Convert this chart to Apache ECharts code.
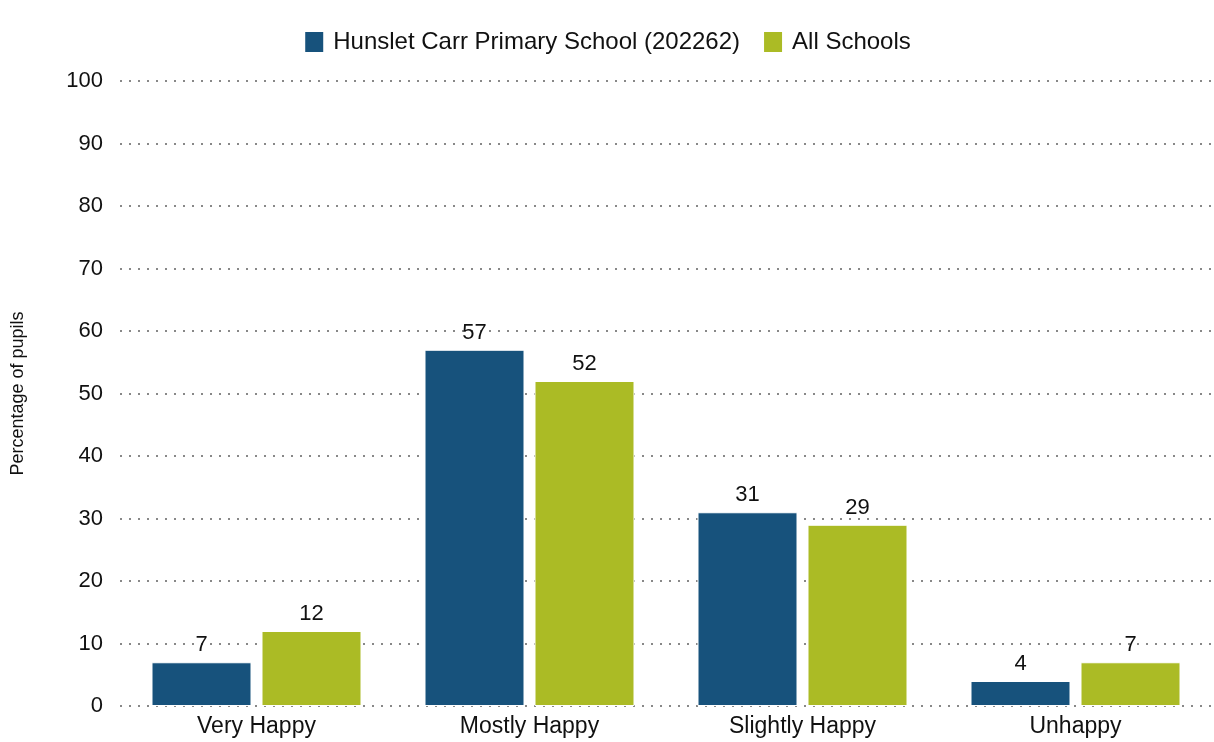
<!DOCTYPE html>
<html><head><meta charset="utf-8">
<script src="https://cdn.jsdelivr.net/npm/echarts@6/dist/echarts.min.js"></script>
<style>html,body{margin:0;padding:0;background:#fff}#c{width:1214px;height:742px}</style>
</head><body><div id="c"></div>
<script>
const categories = ["Very Happy", "Mostly Happy", "Slightly Happy", "Unhappy"];
const schoolName = "Hunslet Carr Primary School (202262)";
const schoolValues = [7, 57, 31, 4];
const allName = "All Schools";
const allValues = [12, 52, 29, 7];
const yTicks = [0, 10, 20, 30, 40, 50, 60, 70, 80, 90, 100];

const font = "Liberation Sans, Arial, sans-serif";
const chart = echarts.init(document.getElementById('c'), null, {renderer: 'canvas'});
const labelStyle = {show: true, position: 'top', color: '#111', fontSize: 22, fontFamily: font, distance: 6};
chart.setOption({
  animation: false,
  textStyle: {fontFamily: font},
  legend: {
    top: 25, left: 'center', itemWidth: 20, itemHeight: 22, itemGap: 22,
    icon: 'rect',
    textStyle: {fontSize: 24, color: '#111', fontFamily: font, padding: [0, 0, 0, 4]},
    data: [schoolName, allName]
  },
  grid: {left: 120, right: 2, top: 81, bottom: 36},
  xAxis: {
    type: 'category', data: categories,
    axisLine: {show: false}, axisTick: {show: false},
    axisLabel: {fontSize: 23, color: '#111', margin: 9, fontFamily: font}
  },
  yAxis: {
    type: 'value', min: 0, max: 100, interval: 10,
    name: 'Percentage of pupils', nameLocation: 'middle', nameGap: 93,
    nameTextStyle: {fontSize: 18, color: '#111', fontFamily: font},
    axisLine: {show: false}, axisTick: {show: false},
    axisLabel: {fontSize: 22, color: '#111', margin: 17, fontFamily: font,
      formatter: v => yTicks.includes(v) ? String(v) : ''},
    splitLine: {lineStyle: {type: [2, 7], color: '#888', width: 2}}
  },
  series: [
    {name: schoolName, type: 'bar', data: schoolValues, barWidth: 100, barGap: '10%',
     itemStyle: {color: '#17527C', borderColor: '#fff', borderWidth: 1}, label: labelStyle},
    {name: allName, type: 'bar', data: allValues, barWidth: 100,
     itemStyle: {color: '#ABBB25', borderColor: '#fff', borderWidth: 1}, label: labelStyle}
  ]
});
</script></body></html>
